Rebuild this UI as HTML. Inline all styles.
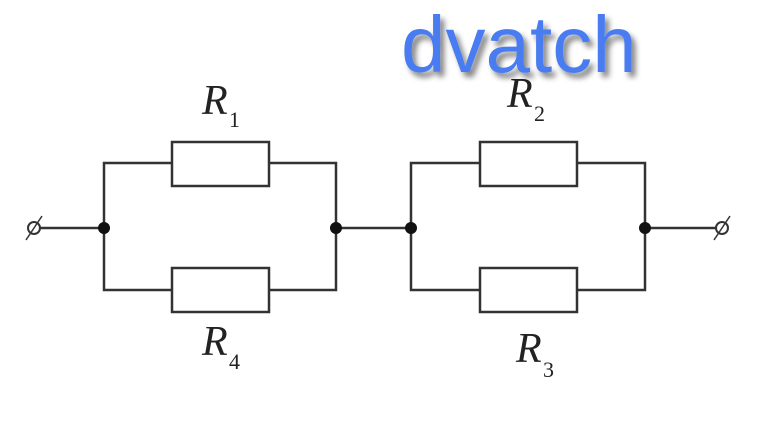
<!DOCTYPE html>
<html><head><meta charset="utf-8"><style>
html,body{margin:0;padding:0;background:#fff;}
svg{display:block}
</style></head><body>
<svg width="770" height="435" viewBox="0 0 770 435" xmlns="http://www.w3.org/2000/svg">
<rect width="770" height="435" fill="#fff"/>
<defs><filter id="sh" x="-10%" y="-10%" width="130%" height="140%"><feGaussianBlur in="SourceAlpha" stdDeviation="3"/><feOffset dx="4" dy="5"/><feComponentTransfer><feFuncA type="linear" slope="0.5"/></feComponentTransfer><feMerge><feMergeNode/><feMergeNode in="SourceGraphic"/></feMerge></filter></defs>
<g stroke="#333" stroke-width="2.5" fill="none">
<line x1="40" y1="228" x2="104" y2="228"/>
<path d="M172 163 H104 V290 H172"/>
<path d="M269 163 H336 V290 H269"/>
<line x1="336" y1="228" x2="411" y2="228"/>
<path d="M480 163 H411 V290 H480"/>
<path d="M577 163 H645 V290 H577"/>
<line x1="645" y1="228" x2="716" y2="228"/>
<rect x="172" y="142" width="97" height="44"/>
<rect x="172" y="268" width="97" height="44"/>
<rect x="480" y="142" width="97" height="44"/>
<rect x="480" y="268" width="97" height="44"/>
<circle cx="34" cy="228" r="6" stroke-width="2"/>
<circle cx="722" cy="228" r="6" stroke-width="2"/>
<line x1="26" y1="240" x2="42" y2="216" stroke-width="1.5"/>
<line x1="714" y1="240" x2="730" y2="216" stroke-width="1.5"/>
</g>
<g fill="#111">
<circle cx="104" cy="228" r="6"/><circle cx="336" cy="228" r="6"/>
<circle cx="411" cy="228" r="6"/><circle cx="645" cy="228" r="6"/>
</g>
<g font-family="Liberation Serif, serif" fill="#222">
<text x="202" y="114" font-size="42" font-style="italic">R</text><text x="229" y="127" font-size="22">1</text>
<text x="507" y="107" font-size="42" font-style="italic">R</text><text x="534" y="121" font-size="22">2</text>
<text x="202" y="355" font-size="42" font-style="italic">R</text><text x="229" y="369" font-size="22">4</text>
<text x="516" y="362" font-size="42" font-style="italic">R</text><text x="543" y="377" font-size="22">3</text>
</g>
<text x="401" y="72" font-family="Liberation Sans, sans-serif" font-size="80" fill="#4a7cf0" filter="url(#sh)">dvatch</text>
</svg>
</body></html>
